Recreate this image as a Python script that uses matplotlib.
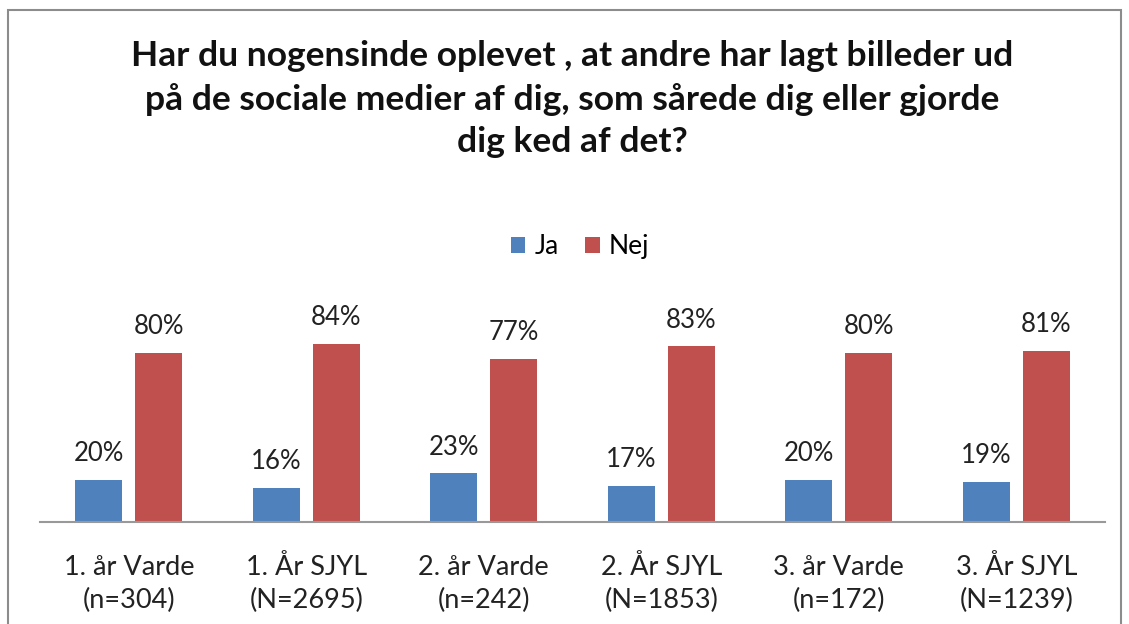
import numpy as np
import matplotlib.pyplot as plt
from matplotlib.patches import Rectangle

plt.rcParams['font.family'] = ['Lato', 'DejaVu Sans']

categories = ["1. år Varde\n(n=304)", "1. År SJYL\n(N=2695)", "2. år Varde\n(n=242)",
              "2. År SJYL\n(N=1853)", "3. år Varde\n(n=172)", "3. År SJYL\n(N=1239)"]
ja = [20, 16, 23, 17, 20, 19]
nej = [80, 84, 77, 83, 80, 81]

blue = "#4F81BD"
red = "#C0504D"

fig = plt.figure(figsize=(11.29, 6.24), dpi=100)
fig.patches.append(Rectangle((8 / 1129, -0.1), 1113 / 1129, 1 - 10 / 624 + 0.1,
                             transform=fig.transFigure, fill=False,
                             edgecolor="#8c8c8c", linewidth=1.5))

ax = fig.add_axes([40 / 1129, 102 / 624, 1065 / 1129, 254 / 624])
x = np.arange(len(categories))
w = 0.265
off = 0.169
b1 = ax.bar(x - off, ja, w, color=blue, label="Ja")
b2 = ax.bar(x + off, nej, w, color=red, label="Nej")

for bars, vals in [(b1, ja), (b2, nej)]:
    for b, v in zip(bars, vals):
        ax.text(b.get_x() + b.get_width() / 2, v + 6.5, f"{v}%", ha="center",
                va="bottom", fontsize=18.5, color="#222222")

ax.set_xlim(-0.5, len(categories) - 0.5)
ax.set_ylim(0, 120)
ax.set_xticks(x)
ax.set_xticklabels(categories, fontsize=19.5, color="#222222", linespacing=1.4)
ax.tick_params(axis="x", length=0, pad=24)
ax.set_yticks([])
for s in ["top", "right", "left"]:
    ax.spines[s].set_visible(False)
ax.spines["bottom"].set_color("#999999")
ax.spines["bottom"].set_linewidth(1.5)

fig.text(572 / 1129, 1 - 99 / 624,
         "Har du nogensinde oplevet , at andre har lagt billeder ud\n"
         "på de sociale medier af dig, som sårede dig eller gjorde\n"
         "dig ked af det?", ha="center", va="center", fontsize=25.5,
         fontweight="bold", linespacing=1.4, color="#111111")

fig.legend(handles=[b1, b2], labels=["Ja", "Nej"], loc="center",
           bbox_to_anchor=(580 / 1129, 1 - 247 / 624), ncol=2, frameon=False,
           fontsize=19, handlelength=0.55, handleheight=0.55, handletextpad=0.35,
           columnspacing=1.0)

fig.savefig("out.png", dpi=100)
